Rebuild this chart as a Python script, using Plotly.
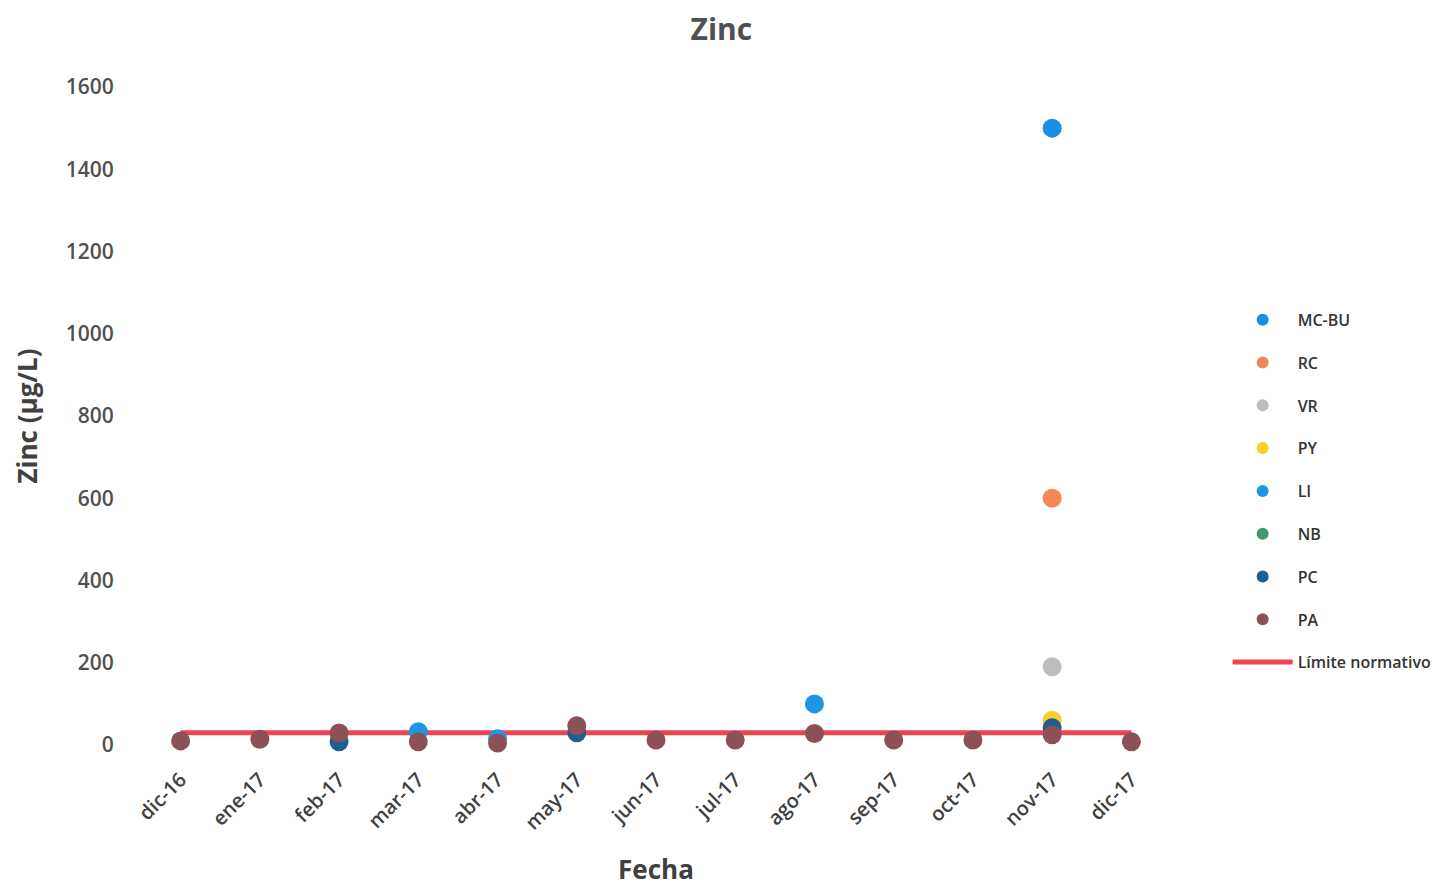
import plotly.graph_objects as go

# datos
meses = ["dic-16", "ene-17", "feb-17", "mar-17", "abr-17", "may-17", "jun-17",
         "jul-17", "ago-17", "sep-17", "oct-17", "nov-17", "dic-17"]

mc_bu = [None, None, None, None, None, None, None, None, None, None, None, 1500, None]
rc = [None, None, None, None, None, None, None, None, None, None, None, 600, None]
vr = [None, None, None, None, None, None, None, None, None, None, None, 190, None]
py = [None, None, None, None, None, None, None, None, None, None, None, 60, None]
li = [None, None, None, 32, 15, None, None, None, 100, None, None, None, None]
nb = [None, None, None, None, None, None, None, None, None, None, None, None, None]
pc = [None, None, 8, None, None, 30, None, None, None, None, None, 42, None]
pa = [10, 14, 29, 8, 5, 47, 12, 12, 28, 12, 12, 25, 8]
limite = [30] * 13

series = [
    ("MC-BU", mc_bu, "#1b8fe0"),
    ("RC", rc, "#f4875a"),
    ("VR", vr, "#bdbdbd"),
    ("PY", py, "#f5cf2a"),
    ("LI", li, "#1d97e4"),
    ("NB", nb, "#3f9a70"),
    ("PC", pc, "#1f5e8e"),
    ("PA", pa, "#8c5157"),
]

fig = go.Figure()

# línea del límite normativo (dibujada primero, debajo de los puntos)
fig.add_trace(go.Scatter(x=meses, y=limite, mode="lines", name="Límite normativo",
                         line=dict(color="#ee4452", width=5),
                         legendrank=2000, legendgroup="lim"))

for i, (nombre, valores, color) in enumerate(series):
    fig.add_trace(go.Scatter(x=meses, y=valores, mode="markers", name=nombre,
                             marker=dict(color=color, size=19),
                             legendrank=1000 + i, legendgroup=nombre,
                             cliponaxis=False))

fig.update_layout(
    width=1456, height=889,
    paper_bgcolor="white", plot_bgcolor="white",
    font=dict(family="Open Sans", color="#404040"),
    title=dict(text="<b>Zinc</b>", x=0.49, xanchor="center", y=0.976, yanchor="middle",
               font=dict(size=30, color="#505050")),
    margin=dict(l=133, r=293, t=79, b=152),
    showlegend=True,
    legend=dict(x=1.055, y=0.672, xanchor="left", yanchor="top",
                font=dict(size=16, color="#333333", weight=600),
                tracegroupgap=19, itemsizing="constant", itemwidth=60,
                traceorder="grouped"),
)

fig.update_xaxes(
    type="category", range=[-0.5, 12.5],
    showgrid=False, zeroline=False, showline=False,
    tickangle=-45, tickfont=dict(size=20, color="#404040", weight=600),
    ticks="outside", ticklen=14, tickcolor="rgba(0,0,0,0)",
    title=dict(text="<b>Fecha</b>", font=dict(size=26, color="#404040"), standoff=26),
)
fig.update_yaxes(
    range=[0, 1600], dtick=200,
    showgrid=False, zeroline=False, showline=False,
    tickfont=dict(size=21, color="#505050", weight=600),
    ticks="outside", ticklen=22, tickcolor="rgba(0,0,0,0)",
    title=dict(text="<b>Zinc (µg/L)</b>", font=dict(size=26, color="#404040"), standoff=20),
)

fig.write_html("out.html")
